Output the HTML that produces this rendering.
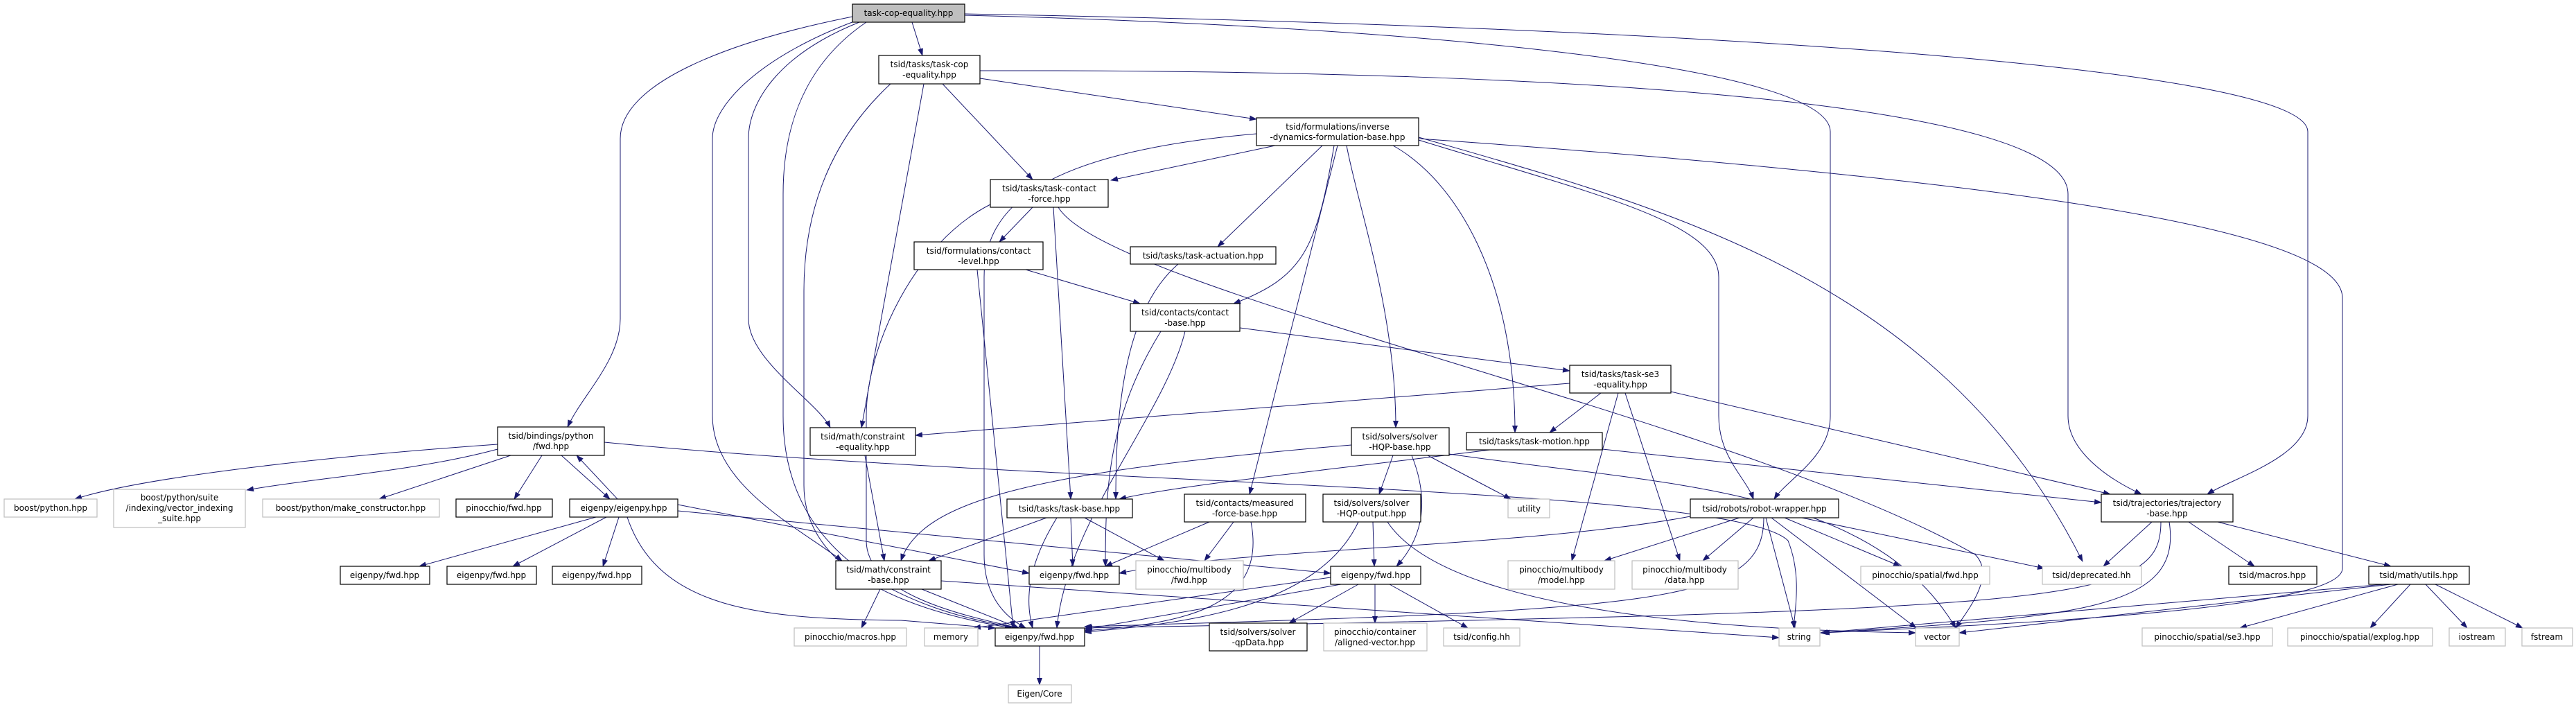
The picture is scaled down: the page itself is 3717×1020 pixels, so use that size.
<!DOCTYPE html>
<html><head><meta charset="utf-8"><style>
html,body{margin:0;padding:0;background:#fff;}
svg{display:block;}
text{font-family:"DejaVu Sans","Liberation Sans",sans-serif;font-size:12px;fill:#000;text-anchor:middle;}
.e{fill:none;stroke:#191970;stroke-width:1;marker-end:url(#a);}
.n{fill:#fff;stroke:#000;stroke-width:1.2;}
.g{fill:#fff;stroke:#bfbfbf;stroke-width:1.2;}
</style></head><body>
<svg width="3717" height="1020" viewBox="0 0 3717 1020" xmlns="http://www.w3.org/2000/svg">
<defs><marker id="a" markerWidth="11" markerHeight="8" refX="10" refY="4" orient="auto" markerUnits="userSpaceOnUse"><path d="M0,0 L11,4 L0,8 z" fill="#191970"/></marker></defs>
<g>
<!-- root edges -->
<path class="e" d="M1316,32 L1331,80"/>
<path class="e" d="M1230,24 C1050,60 895,120 895,200 L895,460 C895,520 840,570 819,616"/>
<path class="e" d="M1240,32 C1120,80 1080,150 1080,200 L1080,460 C1080,520 1180,580 1198,617"/>
<path class="e" d="M1235,30 C1100,80 1028,150 1028,200 L1028,600 C1028,700 1150,760 1215,809"/>
<path class="e" d="M1250,32 C1150,100 1130,200 1130,280 L1130,600 C1130,800 1300,880 1470,906"/>
<path class="e" d="M1392,22 C2100,40 2641,100 2641,190 L2641,600 C2641,660 2580,690 2560,720"/>
<path class="e" d="M1392,20 C2500,40 3330,100 3330,190 L3330,600 C3330,660 3220,690 3185,713"/>
<!-- task-cop-equality -->
<path class="e" d="M1414,113 L1813,172"/>
<path class="e" d="M1360,121 L1490,259"/>
<path class="e" d="M1333,121 L1243,617"/>
<path class="e" d="M1285,121 C1200,200 1160,300 1160,420 L1160,700 C1160,820 1300,880 1460,906"/>
<path class="e" d="M1414,102 C2300,100 2984,150 2984,280 L2984,600 C2984,650 3040,690 3090,713"/>
<!-- inverse-dyn -->
<path class="e" d="M1840,210 L1603,260"/>
<path class="e" d="M1908,210 L1757,356"/>
<path class="e" d="M1925,210 C1900,360 1880,400 1780,438"/>
<path class="e" d="M1943,210 C1960,300 2014,450 2014,617"/>
<path class="e" d="M1930,210 L1803,713"/>
<path class="e" d="M2010,210 C2100,260 2186,400 2186,624"/>
<path class="e" d="M2047,202 C2300,280 2480,320 2480,400 L2480,600 C2480,660 2520,690 2530,720"/>
<path class="e" d="M2047,198 C2400,300 2800,400 3005,810"/>
<path class="e" d="M1813,193 C1500,220 1420,300 1420,400 L1420,800 C1420,860 1450,890 1480,906"/>
<path class="e" d="M2047,200 C2900,260 3380,330 3380,430 L3380,820 C3380,880 2900,900 2630,913"/>
<!-- task-contact-force -->
<path class="e" d="M1490,299 L1442,349"/>
<path class="e" d="M1520,299 L1545,720"/>
<path class="e" d="M1429,295 C1320,350 1250,500 1250,600 L1250,780 C1250,860 1400,890 1470,906"/>
<path class="e" d="M1527,299 C1600,420 2500,600 2850,800 C2880,830 2840,880 2822,906"/>
<!-- contact-level -->
<path class="e" d="M1480,389 L1645,438"/>
<path class="e" d="M1410,389 L1462,906"/>
<!-- task-actuation -->
<path class="e" d="M1700,381 C1620,450 1610,600 1610,720"/>
<!-- contact-base -->
<path class="e" d="M1789,473 L2265,535"/>
<path class="e" d="M1675,478 C1600,600 1595,700 1595,817"/>
<path class="e" d="M1710,478 C1680,600 1540,750 1525,906"/>
<!-- task-se3 -->
<path class="e" d="M2265,553 L1321,628"/>
<path class="e" d="M2310,567 L2236,624"/>
<path class="e" d="M2411,565 L3045,713"/>
<path class="e" d="M2335,567 L2268,809"/>
<path class="e" d="M2345,567 L2424,809"/>
<!-- solver HQP base -->
<path class="e" d="M1950,642 C1500,680 1330,720 1300,809"/>
<path class="e" d="M2010,657 L1990,713"/>
<path class="e" d="M2037,657 C2070,740 2040,790 2015,817"/>
<path class="e" d="M2060,657 L2180,720"/>
<path class="e" d="M2091,655 C2400,700 2700,700 2822,906"/>
<!-- task-motion -->
<path class="e" d="M2150,649 C1900,680 1700,700 1615,720"/>
<path class="e" d="M2312,648 L3032,725"/>
<!-- constraint equality -->
<path class="e" d="M1248,657 L1276,809"/>
<!-- bindings -->
<path class="e" d="M718,641 C450,660 200,690 108,720"/>
<path class="e" d="M718,648 C600,680 450,690 356,707"/>
<path class="e" d="M737,657 L547,720"/>
<path class="e" d="M782,657 L742,720"/>
<path class="e" d="M810,657 L880,720"/>
<path class="e" d="M891,720 L832,657"/>
<path class="e" d="M872,638 C1500,700 2500,700 2580,780 C2600,830 2590,880 2588,906"/>
<!-- eigenpy.hpp -->
<path class="e" d="M860,746 L605,817"/>
<path class="e" d="M875,746 L740,817"/>
<path class="e" d="M893,746 L870,817"/>
<path class="e" d="M978,728 L1485,827"/>
<path class="e" d="M978,737 L1920,827"/>
<path class="e" d="M905,746 C950,880 1100,893 1300,895 L1436,906"/>
<!-- task-base -->
<path class="e" d="M1510,747 L1340,809"/>
<path class="e" d="M1545,747 L1548,817"/>
<path class="e" d="M1565,747 L1680,809"/>
<path class="e" d="M1525,747 C1480,820 1480,870 1490,906"/>
<!-- measured -->
<path class="e" d="M1745,753 L1595,817"/>
<path class="e" d="M1780,753 L1738,809"/>
<path class="e" d="M1805,753 C1830,880 1700,900 1565,910"/>
<!-- HQP output -->
<path class="e" d="M1981,753 L1983,817"/>
<path class="e" d="M1960,753 C1900,880 1700,900 1565,912"/>
<path class="e" d="M2002,753 C2100,900 2600,910 2764,913"/>
<!-- constraint-base -->
<path class="e" d="M1270,850 L1243,906"/>
<path class="e" d="M1330,850 L1470,906"/>
<path class="e" d="M1358,838 L2567,920"/>
<!-- eigenpy fwd B -->
<path class="e" d="M1920,833 L1405,906"/>
<path class="e" d="M1935,843 L1565,908"/>
<path class="e" d="M1960,843 L1860,899"/>
<path class="e" d="M1984,843 L1984,899"/>
<path class="e" d="M2005,843 L2118,906"/>
<!-- eigen core -->
<path class="e" d="M1500,932 L1500,988"/>
<!-- robot wrapper -->
<path class="e" d="M2439,745 C2200,790 1800,790 1615,827"/>
<path class="e" d="M2510,747 L2315,809"/>
<path class="e" d="M2530,747 L2457,809"/>
<path class="e" d="M2548,747 L2590,906"/>
<path class="e" d="M2556,747 L2765,906"/>
<path class="e" d="M2575,747 L2742,817"/>
<path class="e" d="M2600,747 L2950,820"/>
<path class="e" d="M2545,747 C2545,870 2400,880 1565,904"/>
<!-- trajectory -->
<path class="e" d="M3105,753 L3035,817"/>
<path class="e" d="M3158,753 L3253,817"/>
<path class="e" d="M3200,753 L3450,817"/>
<path class="e" d="M3130,753 C3150,880 3000,890 2627,913"/>
<path class="e" d="M3118,753 C3118,870 3000,880 1566,906"/>
<!-- utils -->
<path class="e" d="M3440,843 L2627,913"/>
<path class="e" d="M3450,843 L2827,913"/>
<path class="e" d="M3460,843 L3232,906"/>
<path class="e" d="M3478,843 L3420,906"/>
<path class="e" d="M3500,843 L3560,906"/>
<path class="e" d="M3514,843 L3640,906"/>
</g>
<g>
<rect x="1230" y="6" width="162" height="26" fill="#bfbfbf" stroke="#000" stroke-width="1.2"/><text x="1311" y="23">task-cop-equality.hpp</text>
<rect class="n" x="1268" y="80" width="146" height="41"/><text x="1341" y="97">tsid/tasks/task-cop</text><text x="1341" y="112">-equality.hpp</text>
<rect class="n" x="1813" y="170" width="234" height="40"/><text x="1930" y="187">tsid/formulations/inverse</text><text x="1930" y="202">-dynamics-formulation-base.hpp</text>
<rect class="n" x="1429" y="259" width="170" height="40"/><text x="1514" y="276">tsid/tasks/task-contact</text><text x="1514" y="291">-force.hpp</text>
<rect class="n" x="1319" y="349" width="186" height="40"/><text x="1412" y="366">tsid/formulations/contact</text><text x="1412" y="381">-level.hpp</text>
<rect class="n" x="1631" y="356" width="210" height="25"/><text x="1736" y="373">tsid/tasks/task-actuation.hpp</text>
<rect class="n" x="1631" y="438" width="158" height="40"/><text x="1710" y="455">tsid/contacts/contact</text><text x="1710" y="470">-base.hpp</text>
<rect class="n" x="1169" y="617" width="152" height="40"/><text x="1245" y="634">tsid/math/constraint</text><text x="1245" y="649">-equality.hpp</text>
<rect class="n" x="2265" y="527" width="146" height="40"/><text x="2338" y="544">tsid/tasks/task-se3</text><text x="2338" y="559">-equality.hpp</text>
<rect class="n" x="1950" y="617" width="141" height="40"/><text x="2020" y="634">tsid/solvers/solver</text><text x="2020" y="649">-HQP-base.hpp</text>
<rect class="n" x="2116" y="624" width="196" height="25"/><text x="2214" y="641">tsid/tasks/task-motion.hpp</text>
<rect class="n" x="1453" y="720" width="181" height="27"/><text x="1543" y="738">tsid/tasks/task-base.hpp</text>
<rect class="n" x="1709" y="713" width="175" height="40"/><text x="1796" y="730">tsid/contacts/measured</text><text x="1796" y="745">-force-base.hpp</text>
<rect class="n" x="1909" y="713" width="141" height="40"/><text x="1979" y="730">tsid/solvers/solver</text><text x="1979" y="745">-HQP-output.hpp</text>
<rect class="g" x="2176" y="720" width="60" height="27"/><text x="2206" y="738">utility</text>
<rect class="n" x="1206" y="809" width="152" height="41"/><text x="1282" y="826">tsid/math/constraint</text><text x="1282" y="841">-base.hpp</text>
<rect class="n" x="1485" y="817" width="130" height="26"/><text x="1550" y="834">eigenpy/fwd.hpp</text>
<rect class="g" x="1639" y="809" width="155" height="41"/><text x="1716" y="826">pinocchio/multibody</text><text x="1716" y="841">/fwd.hpp</text>
<rect class="n" x="1920" y="817" width="130" height="26"/><text x="1985" y="834">eigenpy/fwd.hpp</text>
<rect class="g" x="2176" y="809" width="154" height="41"/><text x="2253" y="826">pinocchio/multibody</text><text x="2253" y="841">/model.hpp</text>
<rect class="g" x="2355" y="809" width="153" height="41"/><text x="2431" y="826">pinocchio/multibody</text><text x="2431" y="841">/data.hpp</text>
<rect class="g" x="1146" y="906" width="162" height="26"/><text x="1227" y="923">pinocchio/macros.hpp</text>
<rect class="g" x="1334" y="906" width="77" height="26"/><text x="1372" y="923">memory</text>
<rect class="n" x="1436" y="906" width="129" height="26"/><text x="1500" y="923">eigenpy/fwd.hpp</text>
<rect class="n" x="1745" y="899" width="141" height="40"/><text x="1815" y="916">tsid/solvers/solver</text><text x="1815" y="931">-qpData.hpp</text>
<rect class="g" x="1910" y="899" width="149" height="40"/><text x="1984" y="916">pinocchio/container</text><text x="1984" y="931">/aligned-vector.hpp</text>
<rect class="g" x="2083" y="906" width="110" height="26"/><text x="2138" y="923">tsid/config.hh</text>
<rect class="g" x="1455" y="988" width="91" height="26"/><text x="1500" y="1005">Eigen/Core</text>
<rect class="n" x="718" y="616" width="154" height="41"/><text x="795" y="633">tsid/bindings/python</text><text x="795" y="648">/fwd.hpp</text>
<rect class="g" x="6" y="720" width="134" height="26"/><text x="73" y="737">boost/python.hpp</text>
<rect class="g" x="164" y="706" width="190" height="55"/><text x="259" y="722">boost/python/suite</text><text x="259" y="737">/indexing/vector_indexing</text><text x="259" y="752">_suite.hpp</text>
<rect class="g" x="379" y="720" width="255" height="26"/><text x="506" y="737">boost/python/make_constructor.hpp</text>
<rect class="n" x="658" y="720" width="139" height="26"/><text x="727" y="737">pinocchio/fwd.hpp</text>
<rect class="n" x="822" y="720" width="156" height="26"/><text x="900" y="737">eigenpy/eigenpy.hpp</text>
<rect class="n" x="491" y="817" width="129" height="26"/><text x="555" y="834">eigenpy/fwd.hpp</text>
<rect class="n" x="645" y="817" width="129" height="26"/><text x="709" y="834">eigenpy/fwd.hpp</text>
<rect class="n" x="797" y="817" width="129" height="26"/><text x="861" y="834">eigenpy/fwd.hpp</text>
<rect class="n" x="2439" y="720" width="214" height="27"/><text x="2546" y="738">tsid/robots/robot-wrapper.hpp</text>
<rect class="n" x="3032" y="713" width="190" height="40"/><text x="3127" y="730">tsid/trajectories/trajectory</text><text x="3127" y="745">-base.hpp</text>
<rect class="g" x="2685" y="817" width="186" height="26"/><text x="2778" y="834">pinocchio/spatial/fwd.hpp</text>
<rect class="g" x="2947" y="817" width="143" height="26"/><text x="3018" y="834">tsid/deprecated.hh</text>
<rect class="n" x="3216" y="817" width="127" height="26"/><text x="3279" y="834">tsid/macros.hpp</text>
<rect class="n" x="3418" y="817" width="145" height="26"/><text x="3490" y="834">tsid/math/utils.hpp</text>
<rect class="g" x="2567" y="906" width="59" height="26"/><text x="2596" y="923">string</text>
<rect class="g" x="2764" y="906" width="63" height="26"/><text x="2795" y="923">vector</text>
<rect class="g" x="3091" y="906" width="188" height="26"/><text x="3185" y="923">pinocchio/spatial/se3.hpp</text>
<rect class="g" x="3301" y="906" width="209" height="26"/><text x="3405" y="923">pinocchio/spatial/explog.hpp</text>
<rect class="g" x="3534" y="906" width="81" height="26"/><text x="3574" y="923">iostream</text>
<rect class="g" x="3639" y="906" width="73" height="26"/><text x="3675" y="923">fstream</text>
</g>
</svg>
</body></html>
